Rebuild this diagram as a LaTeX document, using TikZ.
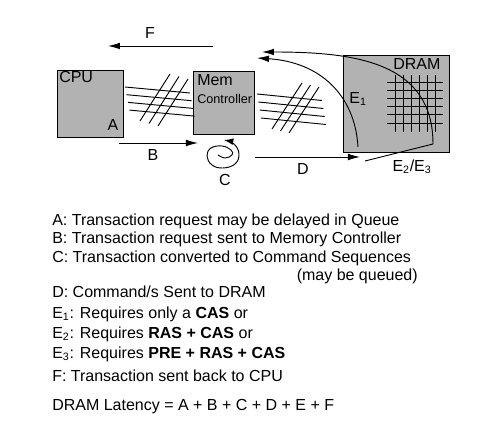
\documentclass[tikz,border=0pt]{standalone}
\usepackage{fontspec}
\setmainfont{Liberation Sans}
\usetikzlibrary{arrows.meta, positioning}
\tikzstyle{unit} = [rectangle, draw=black, line width=0.8pt, fill=black!30, inner sep=0pt, anchor=north west]
\tikzstyle{lbl} = [inner sep=0pt, font=\fontsize{12}{14}\selectfont]
\tikzstyle{note} = [inner sep=0pt, anchor=base west, font=\fontsize{12}{14}\selectfont]
\tikzstyle{flow} = [line width=0.7pt, -{Latex[length=9pt, width=5pt]}]
\tikzstyle{wire} = [line width=0.7pt]

\begin{document}
\begin{tikzpicture}[x=0.75pt, y=-0.75pt]
\useasboundingbox (0,0) rectangle (480,423);

% boxes
\node (cpu) [unit, minimum width=49.5pt, minimum height=50.25pt] at (57,70) {};
\node (mem) [unit, minimum width=45.75pt, minimum height=47.25pt] at (193,71) {};
\node (dram) [unit, minimum width=79.5pt, minimum height=72.75pt] at (343,55) {};
\node (cpulbl) [lbl, anchor=north west] at (59,71) {CPU};
\node (alb) [lbl] at (113,125) {A};
\node (memlbl) [lbl, anchor=north west] at (197,74) {Mem};
\node (ctllbl) [lbl, anchor=north west, font=\fontsize{9.5}{11}\selectfont] at (197,94) {Controller};
\node (dramlbl) [lbl, anchor=north west] at (393,58) {DRAM};

% cell array
\foreach \i in {0,...,5} {
  \draw [wire] (395+8*\i,75) -- (395+8*\i,132);
  \draw [wire] (387,82+8.2*\i) -- (443,82+8.2*\i);
}

% buses
\foreach \k in {0,...,3} {
  \draw [wire] (125+1.5*\k,87+7.7*\k) -- ++(65,6);
  \draw [wire] (257+1.3*\k,94+8*\k) -- ++(65,6.5);
}
\foreach \k in {0,1,2} {
  \draw [wire] (140+9*\k,121+2.5*\k) -- ++(30,-47);
  \draw [wire] (272+8.5*\k,129+2*\k) -- ++(30,-46);
}

% flow arrows
\coordinate (fs) at (213,46);
\coordinate (fe) at (108,46);
\coordinate (bs) at (119,143);
\coordinate (be) at (198,143);
\coordinate (ds) at (255,157);
\coordinate (de) at (360,157);
\draw [flow] (fs) -- (fe);
\draw [flow] (bs) -- (be);
\draw [flow] (ds) -- (de);
\node (flb) [lbl] at (150,33) {F};
\node (blb) [lbl] at (153,155) {B};
\node (dlb) [lbl] at (303,169) {D};

% spiral
\draw [line width=0.7pt, -{Latex[length=7pt, width=5pt]}]
  plot [smooth, tension=0.7] coordinates {(218,155) (225,158) (232,155) (231,150) (222,146) (211,148)
    (207,156) (212,165) (223,168) (235,164) (239,154) (234,144) (224,140)};
\node (clb) [lbl] at (225,180) {C};

% DRAM access paths
\coordinate (e1s) at (358,147);
\coordinate (e1e) at (257,58);
\coordinate (e2s) at (365,161);
\coordinate (e2m) at (433,144);
\coordinate (e2e) at (262,52);
\draw [flow] (e1s) .. controls (355,95) and (320,62) .. (e1e);
\draw [flow] (e2s) -- (e2m) .. controls (433,62) and (355,52) .. (e2e);
\node (e1lb) [lbl] at (358,99) {E\textsubscript{1}};
\node (e2lb) [lbl] at (412,167) {E\textsubscript{2}/E\textsubscript{3}};

% legend
\node (na) [note] at (52,226) {A: Transaction request may be delayed in Queue};
\node (nb) [note] at (52,244) {B: Transaction request sent to Memory Controller};
\node (nc) [note] at (52,262.7) {C: Transaction converted to Command Sequences};
\node (nq) [note, anchor=base east] at (418,281) {(may be queued)};
\node (nd) [note] at (52,297.3) {D: Command/s Sent to DRAM};
\node (ne1) [note] at (52,318.3) {E\textsubscript{1}: Requires only a \textbf{CAS} or};
\node (ne2) [note] at (52,338.3) {E\textsubscript{2}: Requires \textbf{RAS + CAS} or};
\node (ne3) [note] at (52,358.3) {E\textsubscript{3}: Requires \textbf{PRE + RAS + CAS}};
\node (nf) [note] at (52,381.7) {F: Transaction sent back to CPU};
\node (nl) [note] at (52,411) {DRAM Latency = A + B + C + D + E + F};
\end{tikzpicture}
\end{document}
